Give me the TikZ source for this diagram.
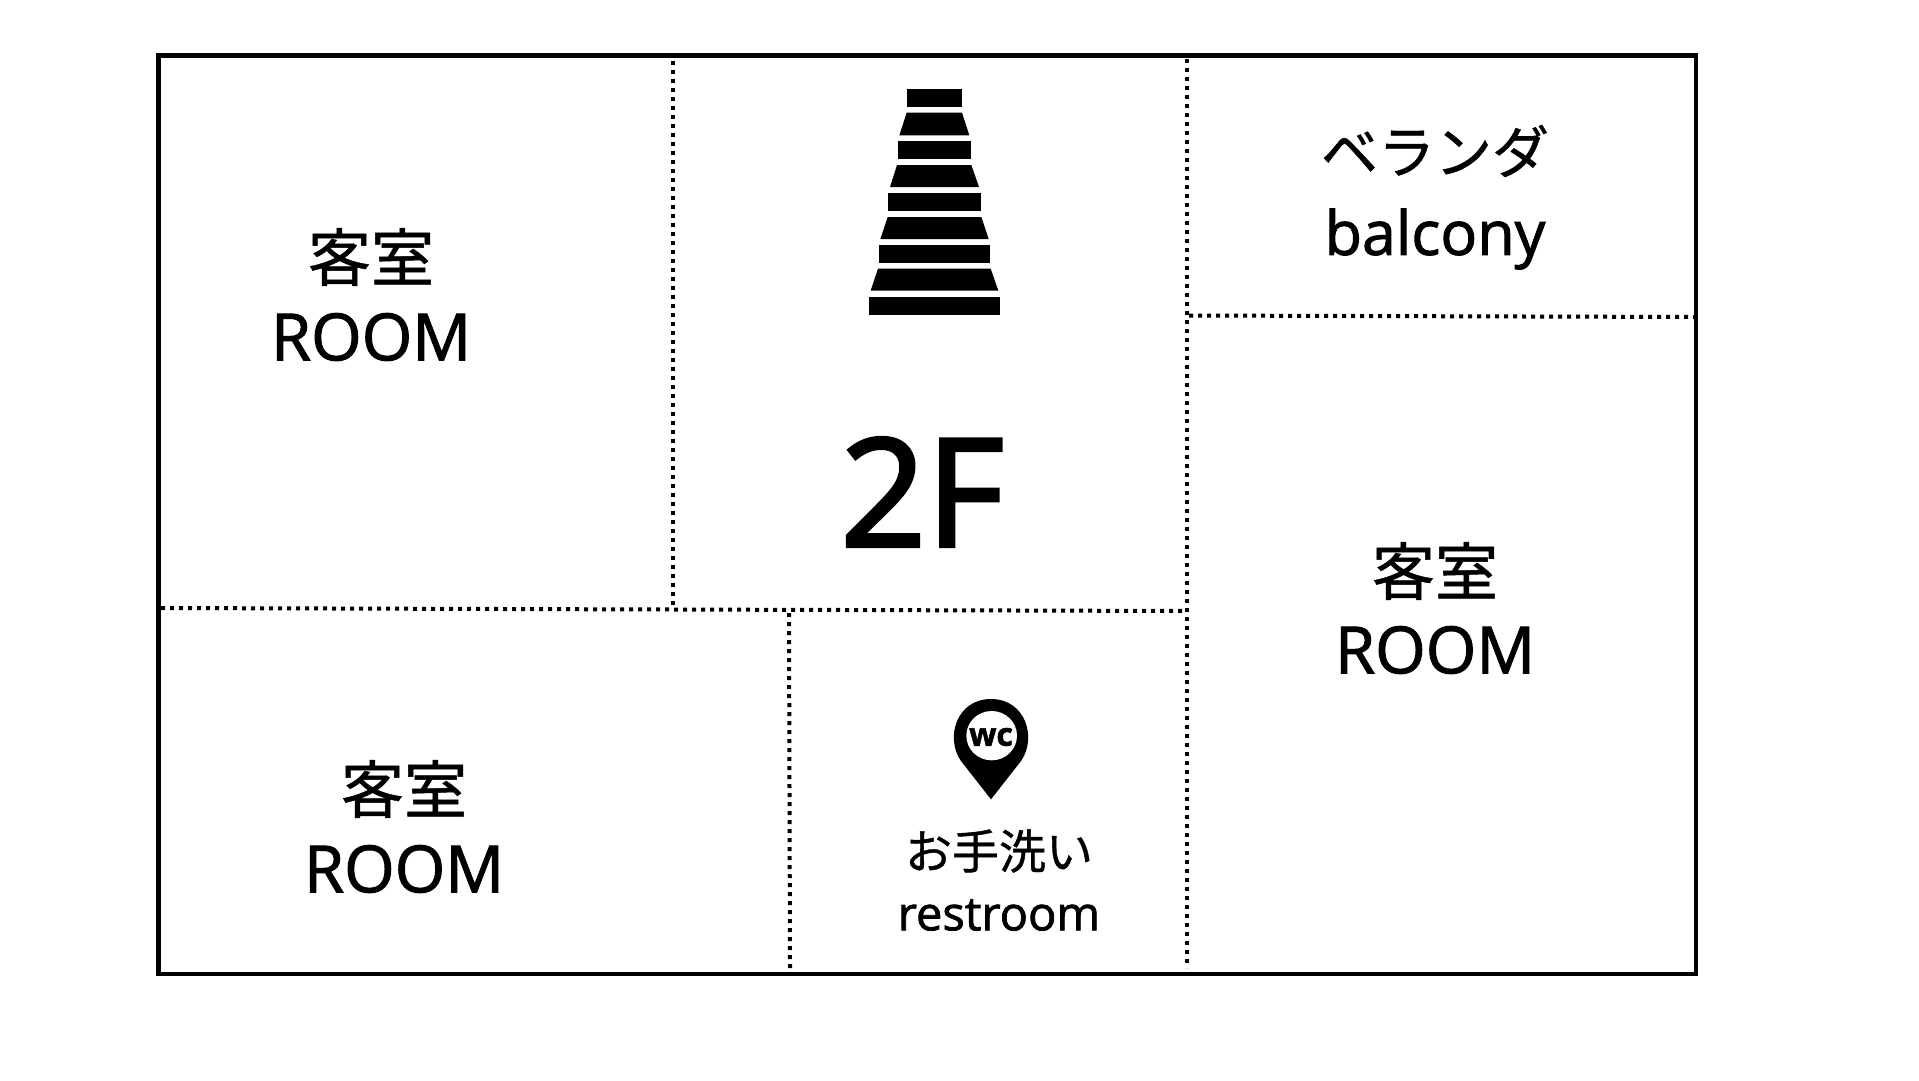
\documentclass[tikz,border=0pt]{standalone}
\usepackage{fontspec}
\setmainfont[FakeBold=1.6]{Open Sans}
\newfontfamily\cjk[FakeBold=0.8]{Noto Sans CJK JP}
\newfontfamily\bigfont[FakeBold=2.5]{Open Sans}
\tikzset{
  wall/.style={line width=4.6pt,black},
  partition/.style={line width=4pt,black,dash pattern=on 4pt off 5pt},
  stairpart/.style={fill=black,draw=none},
  jp/.style={inner sep=0pt,font=\cjk\fontsize{#1}{#1}\selectfont},
  en/.style={inner sep=0pt,font=\fontsize{#1}{#1}\selectfont},
}
\begin{document}
\begin{tikzpicture}[x=1pt,y=-1pt]
\useasboundingbox (0,0) rectangle (1919,1080);
\fill[white] (0,0) rectangle (1919,1080);
% partitions
\draw[partition] (673,61) -- (673,608);
\draw[partition] (1187,59) -- (1187,968);
\draw[partition] (1189,315.5) -- (1695,317);
\draw[partition] (161,608) -- (1187,611);
\draw[partition] (789,613) -- (790,968);
\draw[wall] (158.5,55.5) rectangle (1696,974);
% stairs
\begin{scope}[shift={(840,60)},x=0.33333pt,y=-0.33333pt]
\fill[stairpart] (202,87) rectangle (365,141);
\fill[stairpart] (200,158) -- (366,158) -- (388,226) -- (178,226) -- cycle;
\fill[stairpart] (174,243) rectangle (393,297);
\fill[stairpart] (171,315) -- (394,315) -- (417,381) -- (150,381) -- cycle;
\fill[stairpart] (145,400) rectangle (422,454);
\fill[stairpart] (143,471) -- (424,471) -- (446,537) -- (121,537) -- cycle;
\fill[stairpart] (116,555) rectangle (450,608);
\fill[stairpart] (114,626) -- (452,626) -- (475,692) -- (92,692) -- cycle;
\fill[stairpart] (87,711) rectangle (480,764);
\end{scope}
% wc pin
\begin{scope}[shift={(880,680)},x=0.33333pt,y=-0.33333pt]
\fill[black] (333,358) -- (243,243) .. controls (195,175) and (228,57) .. (333,57) .. controls (438,57) and (471,175) .. (423,243) -- cycle;
\fill[white] (335,167) ellipse [x radius=76,y radius=74];
\end{scope}
\node[inner sep=0pt,font=\bfseries\fontsize{32}{32}\selectfont] (wc) at (991,737) {wc};
% labels
\node[jp=63] (room1jp) at (371,257) {客室};
\node[en=65] (room1en) at (371,337) {ROOM};
\node[jp=63] (room2jp) at (1435,571) {客室};
\node[en=65] (room2en) at (1435,650) {ROOM};
\node[jp=63] (room3jp) at (404,789) {客室};
\node[en=65] (room3en) at (404,869) {ROOM};
\node[jp=57] (balcjp) at (1435,151) {ベランダ};
\node[en=61] (balcen) at (1435,239) {balcony};
\node[jp=47] (wcjp) at (999,851) {お手洗い};
\node[en=47] (wcen) at (999,915) {restroom};
\node[inner sep=0pt,font=\bigfont\fontsize{150}{150}\selectfont] (floor) at (922,492) {2F};
\end{tikzpicture}
\end{document}
